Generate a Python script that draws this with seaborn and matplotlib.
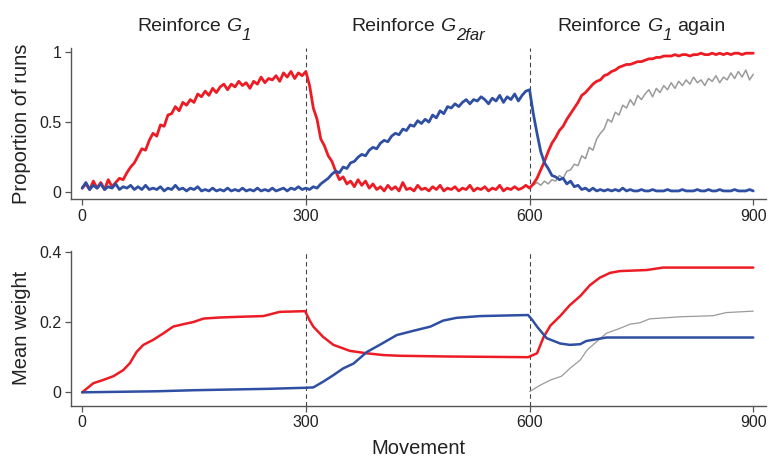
import numpy as np
import pandas as pd
import matplotlib
matplotlib.use("Agg")
import matplotlib.pyplot as plt
import matplotlib.transforms as mtransforms
import seaborn as sns

# ---------------- data ----------------
step = 5
top_x = list(range(0, 901, step))

top_red = [0.03, 0.06, 0.02, 0.08, 0.03, 0.07, 0.02, 0.09, 0.04, 0.07,
           0.10, 0.09, 0.14, 0.18, 0.21, 0.26, 0.31, 0.30, 0.37, 0.42,
           0.40, 0.48, 0.47, 0.55, 0.56, 0.61, 0.58, 0.64, 0.62, 0.66,
           0.64, 0.70, 0.68, 0.72, 0.69, 0.74, 0.71, 0.75, 0.77, 0.73,
           0.77, 0.75, 0.79, 0.76, 0.78, 0.74, 0.79, 0.77, 0.82, 0.78,
           0.81, 0.80, 0.83, 0.79, 0.85, 0.82, 0.86, 0.81, 0.85, 0.83,
           0.86, 0.76, 0.60, 0.52, 0.38, 0.33, 0.26, 0.22, 0.15, 0.09,
           0.11, 0.06, 0.08, 0.04, 0.09, 0.05, 0.08, 0.03, 0.06, 0.02,
           0.04, 0.01, 0.05, 0.02, 0.04, 0.01, 0.07, 0.02, 0.03, 0.01,
           0.05, 0.02, 0.03, 0.01, 0.04, 0.02, 0.05, 0.01, 0.03, 0.02,
           0.04, 0.01, 0.03, 0.02, 0.05, 0.01, 0.03, 0.02, 0.04, 0.01,
           0.03, 0.02, 0.05, 0.01, 0.03, 0.02, 0.04, 0.02, 0.03, 0.05,
           0.03, 0.06, 0.10, 0.16, 0.22, 0.29, 0.35, 0.39, 0.44, 0.47,
           0.52, 0.56, 0.60, 0.64, 0.69, 0.71, 0.74, 0.77, 0.79, 0.80,
           0.83, 0.84, 0.86, 0.87, 0.89, 0.90, 0.91, 0.91, 0.92, 0.93,
           0.93, 0.94, 0.95, 0.95, 0.96, 0.96, 0.97, 0.97, 0.97, 0.98,
           0.97, 0.98, 0.98, 0.97, 0.98, 0.98, 0.99, 0.98, 0.98, 0.99,
           0.98, 0.99, 0.98, 0.99, 0.98, 0.99, 0.99, 0.98, 0.99, 0.99,
           0.99]

top_blue = [0.03, 0.07, 0.02, 0.05, 0.03, 0.06, 0.02, 0.04, 0.03, 0.06,
            0.02, 0.04, 0.03, 0.05, 0.02, 0.04, 0.02, 0.05, 0.02, 0.03,
            0.02, 0.04, 0.01, 0.03, 0.02, 0.05, 0.02, 0.03, 0.01, 0.03,
            0.02, 0.04, 0.01, 0.02, 0.01, 0.03, 0.01, 0.02, 0.01, 0.03,
            0.01, 0.02, 0.01, 0.03, 0.01, 0.02, 0.01, 0.03, 0.01, 0.02,
            0.01, 0.03, 0.01, 0.02, 0.03, 0.01, 0.03, 0.02, 0.04, 0.02,
            0.03, 0.02, 0.04, 0.03, 0.06, 0.08, 0.10, 0.13, 0.15, 0.14,
            0.18, 0.17, 0.21, 0.22, 0.25, 0.27, 0.26, 0.30, 0.32, 0.31,
            0.35, 0.37, 0.36, 0.40, 0.42, 0.41, 0.45, 0.44, 0.48, 0.47,
            0.51, 0.49, 0.52, 0.50, 0.55, 0.53, 0.58, 0.56, 0.61, 0.60,
            0.63, 0.61, 0.64, 0.66, 0.63, 0.66, 0.65, 0.68, 0.66, 0.63,
            0.67, 0.65, 0.69, 0.64, 0.68, 0.66, 0.70, 0.65, 0.69, 0.72,
            0.73, 0.56, 0.42, 0.29, 0.21, 0.17, 0.12, 0.11, 0.09, 0.10,
            0.06, 0.08, 0.04, 0.05, 0.02, 0.03, 0.01, 0.03, 0.01, 0.02,
            0.01, 0.02, 0.01, 0.02, 0.01, 0.03, 0.01, 0.02, 0.01, 0.01,
            0.02, 0.01, 0.01, 0.02, 0.01, 0.01, 0.01, 0.02, 0.01, 0.01,
            0.01, 0.02, 0.01, 0.01, 0.01, 0.02, 0.01, 0.01, 0.02, 0.01,
            0.01, 0.02, 0.01, 0.01, 0.01, 0.02, 0.01, 0.01, 0.01, 0.02,
            0.01]

gray_x = list(range(605, 901, step))
top_gray = [0.05, 0.07, 0.05, 0.08, 0.06, 0.09, 0.08, 0.12, 0.10, 0.15,
            0.16, 0.20, 0.19, 0.26, 0.24, 0.32, 0.30, 0.38, 0.42, 0.45,
            0.52, 0.50, 0.57, 0.55, 0.62, 0.60, 0.66, 0.62, 0.69, 0.66,
            0.70, 0.73, 0.68, 0.74, 0.71, 0.76, 0.73, 0.78, 0.74, 0.79,
            0.76, 0.80, 0.77, 0.82, 0.78, 0.80, 0.76, 0.81, 0.79, 0.83,
            0.78, 0.82, 0.80, 0.85, 0.81, 0.86, 0.82, 0.87, 0.80, 0.84]

w_red_x = [0, 15, 28, 42, 55, 64, 73, 82, 95, 109, 122, 136, 149, 163, 185,
           212, 243, 265, 299, 305, 310, 323, 337, 359, 382, 404, 426, 489,
           598, 610, 619, 628, 641, 654, 668, 681, 694, 708, 721, 757, 779, 900]
w_red = [0.0, 0.026, 0.035, 0.046, 0.063, 0.083, 0.115, 0.135, 0.149, 0.168,
         0.187, 0.194, 0.200, 0.210, 0.213, 0.215, 0.217, 0.229, 0.231, 0.205,
         0.187, 0.158, 0.135, 0.118, 0.111, 0.106, 0.104, 0.102, 0.100, 0.111,
         0.158, 0.190, 0.217, 0.248, 0.274, 0.305, 0.326, 0.340, 0.345, 0.348,
         0.355, 0.355]

w_blue_x = [0, 100, 150, 200, 250, 300, 310, 323, 337, 350, 364, 382, 399,
            422, 444, 467, 484, 502, 534, 598, 604, 610, 623, 641, 654, 668,
            676, 703, 900]
w_blue = [0.0, 0.003, 0.006, 0.008, 0.010, 0.013, 0.014, 0.030, 0.049, 0.068,
          0.082, 0.115, 0.135, 0.163, 0.175, 0.187, 0.204, 0.212, 0.217, 0.220,
          0.205, 0.187, 0.154, 0.139, 0.135, 0.137, 0.146, 0.156, 0.156]

w_gray_x = [600, 614, 628, 643, 654, 668, 677, 690, 703, 721, 735, 748, 761,
            802, 846, 864, 900]
w_gray = [0.002, 0.020, 0.035, 0.046, 0.068, 0.092, 0.120, 0.144, 0.168,
          0.182, 0.194, 0.198, 0.209, 0.215, 0.218, 0.227, 0.231]

phase_bounds = [300, 600]
phase_centers = [150, 450, 750]
# (prefix, italic letter, italic subscript, suffix)
phase_titles = [("Reinforce", "G", "1", ""),
                ("Reinforce", "G", "2far", ""),
                ("Reinforce", "G", "1", "again")]
x_ticks = [0, 300, 600, 900]
top_yticks = [0, 0.5, 1]
top_yticklabels = ["0", "0.5", "1"]
bot_yticks = [0, 0.2, 0.4]
bot_yticklabels = ["0", "0.2", "0.4"]

RED = "#ED1C24"
BLUE = "#2F4FA2"
GRAY = "#9A9A9A"
AXC = "#555555"
TXT = "#222222"

# ---------------- style ----------------
sns.set_style("ticks")
plt.rcParams['font.family'] = ['Liberation Sans', 'DejaVu Sans']

fig = plt.figure(figsize=(7.69, 4.63), dpi=100)
ax1 = fig.add_axes([0.0923, 0.570, 0.9037, 0.326])
ax2 = fig.add_axes([0.0923, 0.1238, 0.9037, 0.3347])

top_df = pd.DataFrame({"Movement": top_x, "red": top_red, "blue": top_blue})
gray_df = pd.DataFrame({"Movement": gray_x, "gray": top_gray})

sns.lineplot(data=gray_df, x="Movement", y="gray", ax=ax1, color=GRAY, lw=1.1)
sns.lineplot(data=top_df, x="Movement", y="red", ax=ax1, color=RED, lw=2.0)
sns.lineplot(data=top_df, x="Movement", y="blue", ax=ax1, color=BLUE, lw=2.0)

sns.lineplot(x=w_gray_x, y=w_gray, ax=ax2, color=GRAY, lw=0.9)
sns.lineplot(x=w_red_x, y=w_red, ax=ax2, color=RED, lw=1.8)
sns.lineplot(x=w_blue_x, y=w_blue, ax=ax2, color=BLUE, lw=1.8)

for ax in (ax1, ax2):
    for b in phase_bounds:
        ax.axvline(b, color="#444444", lw=0.8, ls=(0, (4, 3)), zorder=0)
    ax.set_xlim(-15, 917)
    ax.set_xticks(x_ticks)
    ax.set_xticklabels([str(t) for t in x_ticks])
    for s in ("top", "right"):
        ax.spines[s].set_visible(False)
    for s in ("left", "bottom"):
        ax.spines[s].set_color(AXC)
        ax.spines[s].set_linewidth(1.0)
    ax.tick_params(direction="out", length=4, width=0.9, color=AXC,
                   labelsize=11.5, labelcolor=TXT, pad=3)

ax1.set_ylim(-0.048, 1.026)
ax1.set_yticks(top_yticks)
ax1.set_yticklabels(top_yticklabels)
ax1.set_xlabel("")
ax1.set_ylabel("Proportion of runs", fontsize=14.5, color=TXT, labelpad=6)

ax2.set_ylim(-0.038, 0.403)
ax2.set_yticks(bot_yticks)
ax2.set_yticklabels(bot_yticklabels)
ax2.set_ylabel("Mean weight", fontsize=14.5, color=TXT, labelpad=6)
ax2.set_xlabel("Movement", fontsize=14.5, color=TXT, labelpad=6)

# ---- phase titles built from pieces (italic G with large, dropped subscript)
renderer = fig.canvas.get_renderer()
base_tr = ax1.get_xaxis_transform()
FS_MAIN = 14
FS_SUB = 12
SUB_DROP = 9  # pixels
space_px = (fig.text(0, 0, "a a", fontsize=FS_MAIN).get_window_extent(renderer).width
            - fig.text(0, 0, "aa", fontsize=FS_MAIN).get_window_extent(renderer).width)
for t in list(fig.texts):
    t.remove()

for c, (pre, letter, sub, suf) in zip(phase_centers, phase_titles):
    specs = [(pre, FS_MAIN, "normal", 0, space_px),
             (letter, FS_MAIN, "italic", 0, 0.5),
             (sub, FS_SUB, "italic", -SUB_DROP, space_px if suf else 0)]
    if suf:
        specs.append((suf, FS_MAIN, "normal", 0, 0))
    arts = []
    widths = []
    for txt, fs, style, dy, gap in specs:
        a = ax1.text(c, 1.113, txt, transform=base_tr, ha="left", va="baseline",
                     fontsize=fs, fontstyle=style, color=TXT)
        arts.append((a, dy, gap))
        widths.append(a.get_window_extent(renderer).width)
    total = sum(widths) + sum(g for _, _, g in arts)
    x_off = -total / 2.0
    for (a, dy, gap), w in zip(arts, widths):
        a.set_transform(base_tr + mtransforms.ScaledTranslation(
            x_off / fig.dpi, dy / fig.dpi, fig.dpi_scale_trans))
        x_off += w + gap

fig.savefig("out.png", dpi=100)
